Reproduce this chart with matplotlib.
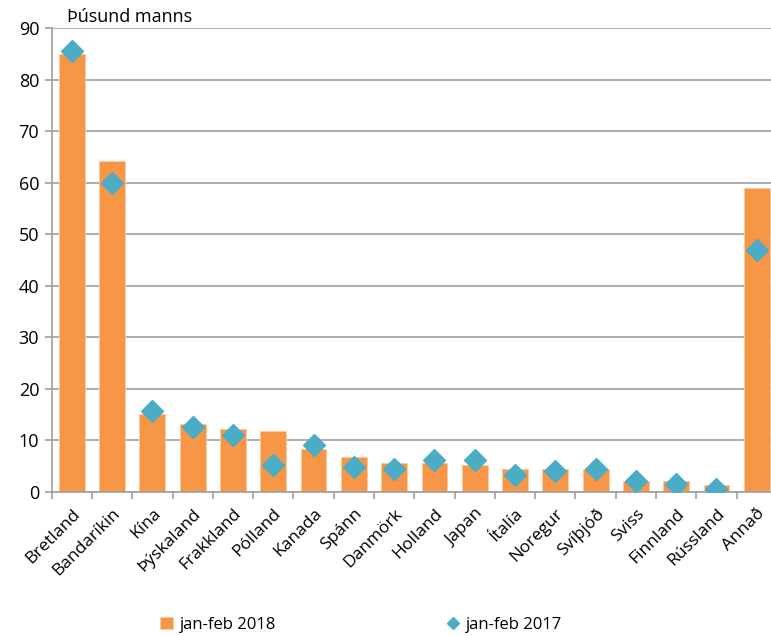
import matplotlib
matplotlib.use("Agg")
import matplotlib.pyplot as plt
import numpy as np

plt.rcParams['font.family'] = ['Open Sans', 'DejaVu Sans']

countries = ["Bretland", "Bandaríkin", "Kína", "Þýskaland", "Frakkland", "Pólland",
             "Kanada", "Spánn", "Danmörk", "Holland", "Japan", "Ítalía", "Noregur",
             "Svíþjóð", "Sviss", "Finnland", "Rússland", "Annað"]
jan_feb_2018 = [85.0, 64.2, 15.1, 13.2, 12.1, 11.7, 8.2, 6.7, 5.5, 5.5, 5.1, 4.35,
                4.35, 4.35, 2.0, 2.0, 1.25, 58.9]
jan_feb_2017 = [85.6, 60.0, 15.7, 12.5, 11.0, 5.2, 9.0, 4.8, 4.4, 6.1, 6.1, 3.3,
                4.1, 4.4, 2.1, 1.4, 0.6, 47.0]

orange = "#F79646"
blue = "#4BACC6"
grey = "#A0A0A0"

fig = plt.figure(figsize=(7.71, 6.36), dpi=100)
ax = fig.add_axes([0.067, 0.2269, 0.9407, 0.7288])   # right end runs past the figure edge, like the original

x = np.arange(len(countries))
bars = ax.bar(x, jan_feb_2018, width=0.64, color=orange, edgecolor="#FBC9A0",
              linewidth=0.6, label="jan-feb 2018", zorder=2)
pts, = ax.plot(x, jan_feb_2017, linestyle="none", marker="D", markersize=11,
               color=blue, label="jan-feb 2017", zorder=3)

ax.set_xlim(-0.5, len(countries) - 0.5)
ax.set_ylim(0, 90)
ax.set_yticks(np.arange(0, 91, 10))
ax.yaxis.grid(True, color=grey, linewidth=1.2)
ax.set_axisbelow(True)

# tick marks between categories, labels at category centres
ax.set_xticks(x)
ax.set_xticklabels(countries, rotation=45, ha="right", rotation_mode="anchor", fontsize=12.5)
ax.set_xticks(np.arange(-0.5, len(countries), 1), minor=True)
ax.tick_params(axis="x", which="major", length=0, pad=10)
ax.tick_params(axis="x", which="minor", length=5, width=1.2, color=grey, direction="out")
ax.tick_params(axis="y", length=5, width=1.2, color=grey, labelsize=13, pad=4)

for side in ["top", "right"]:
    ax.spines[side].set_visible(False)
ax.spines["left"].set_color(grey)
ax.spines["left"].set_linewidth(1.2)
ax.spines["bottom"].set_color(grey)
ax.spines["bottom"].set_linewidth(1.2)

fig.text(0.087, 0.973, "Þúsund manns", fontsize=13, va="center", ha="left")

fig.legend(handles=[bars, pts], loc="center", bbox_to_anchor=(0.468, 0.018),
           ncol=2, frameon=False, fontsize=12, handlelength=0.8, handletextpad=0.4,
           columnspacing=10.2, markerscale=0.6)

fig.savefig("out.png", dpi=100)
